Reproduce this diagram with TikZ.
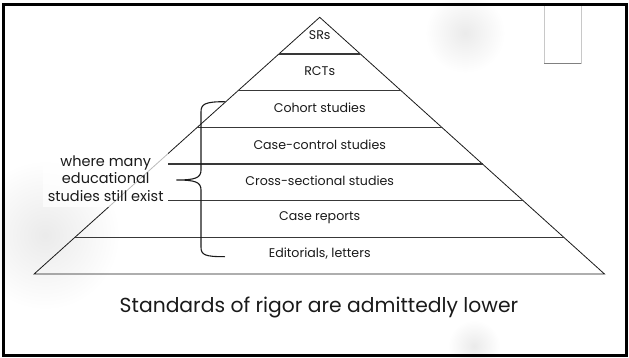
\documentclass[tikz,border=0pt]{standalone}
\usepackage{fontspec}
\setmainfont{Poppins}
\usetikzlibrary{calc}
\definecolor{ink}{HTML}{1A1A1A}
\definecolor{rule}{HTML}{383838}
\definecolor{fog}{HTML}{C8C8C8}
\tikzset{
  frame/.style={draw=black, line width=3pt},
  edge/.style={draw=ink, line width=0.8pt, line join=miter},
  tier/.style={draw=rule, line width=1.1pt},
  brace/.style={draw=ink, line width=1.1pt, line cap=round},
  lab/.style={text=ink, font=\fontsize{12.6}{14}\selectfont, inner sep=0pt},
  note/.style={text=ink, font=\fontsize{14.5}{17.5}\selectfont, align=center, fill=white, fill opacity=0.7, text opacity=1, minimum width=125pt, minimum height=57pt, inner sep=0pt},
  capt/.style={text=ink, font=\fontsize{20.3}{22}\selectfont, inner sep=0pt},
  blob/.style={inner color=black!8, outer color=white},
}
\begin{document}
\begin{tikzpicture}[x=1pt,y=-1pt]
  \useasboundingbox (0,0) rectangle (629,358);
  \def\h{36.67}
  \def\w{40.74}

  % soft shadows behind the slide
  \shade[blob] (465,33) circle (40);
  \shade[blob] (45,235) circle (75);
  \shade[blob] (474,346) circle (26);

  % small box, top right
  \draw[fog, fill=white] (544.3,5) rectangle (581,63.3);
  \draw[gray, line width=1.2pt] (544.3,63.3) -- (581,63.3);

  \coordinate (top) at (319.7,17.3);
  \coordinate (bl) at (34.1,274);
  \coordinate (br) at (604.5,274);
  \draw[edge] (bl) -- (top) -- (br) -- cycle;

  \node[note] (note) at (105.7,178.5) {where many\\educational\\studies still exist};

  \foreach \k in {1,...,6}
    \coordinate (t\k) at ($(top)+({\k*\w},{\k*\h})$);
  \foreach \k in {1,2,3,6}
    \draw[tier] ($(top)+({-\k*\w},{\k*\h})$) -- (t\k);
  \foreach \k in {4,5}
    \draw[tier] (note.east |- t\k) -- (t\k);

  \node[lab] (sr) at (319.7,35) {SRs};
  \node[lab] (rct) at (319.7,70.7) {RCTs};
  \node[lab] (cohort) at (319.7,107.3) {Cohort studies};
  \node[lab] (casectl) at (319.7,144.3) {Case-control studies};
  \node[lab] (cross) at (319.7,180.7) {Cross-sectional studies};
  \node[lab] (casrep) at (319.7,217.3) {Case reports};
  \node[lab] (edit) at (319.7,254) {Editorials, letters};

  % brace
  \coordinate (brtop) at (224.6,101.7);
  \coordinate (brtip) at (176.5,180);
  \coordinate (brbot) at (224.6,256.7);
  \draw[brace] (brtop) .. controls (205,101.7) and (201,104) .. (201,112)
    -- (201,170) .. controls (201,178) and (195,180) .. (brtip)
    .. controls (195,180) and (201,182) .. (201,190)
    -- (201,247) .. controls (201,255) and (205,256.7) .. (brbot);

  \node[capt] (capt) at (319,307) {Standards of rigor are admittedly lower};

  \draw[frame] (3.5,4.5) rectangle (626.5,355.5);
\end{tikzpicture}
\end{document}
